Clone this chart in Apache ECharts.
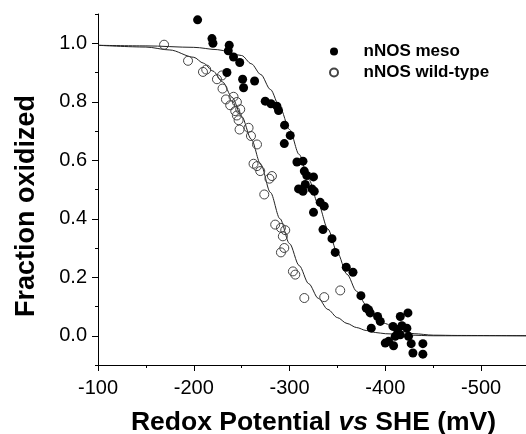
<!DOCTYPE html>
<html>
<head>
<meta charset="utf-8">
<script src="https://cdn.jsdelivr.net/npm/echarts@6/dist/echarts.min.js"></script>
<style>html,body{margin:0;padding:0;background:#fff}#c{width:526px;height:434px}</style>
</head>
<body>
<div id="c"></div>
<script>
// ---- data ----
var mesoX = [-204,-219,-220,-237,-236,-241.5,-248,-234.6,-251,-252,-263.5,-274.6,-280.6,-286.8,-288.5,-294.8,-300.7,-294.5,-307.7,-314,-315.4,-318,-325,-309.4,-314,-316.4,-323.4,-325.8,-332,-336.2,-325,-334.9,-344.3,-347.7,-359.2,-366.2,-374.5,-380,-382.5,-384.2,-391.9,-394.7,-385.3,-415.6,-423.6,-408,-412.7,-417.3,-422.5,-410.3,-415.6,-424.2,-399.9,-403.4,-408.6,-427,-439.2,-428.8,-439.2];
var mesoY = [1.08,1.016,1.0,0.993,0.974,0.953,0.934,0.90,0.877,0.848,0.871,0.802,0.793,0.785,0.77,0.72,0.685,0.657,0.594,0.597,0.563,0.548,0.543,0.502,0.494,0.517,0.502,0.494,0.456,0.443,0.422,0.363,0.332,0.285,0.234,0.217,0.137,0.095,0.089,0.078,0.066,0.049,0.026,0.066,0.078,0.032,0.021,0.034,0.026,-0.002,0.003,-0.002,-0.025,-0.019,-0.034,-0.027,-0.027,-0.059,-0.063];
var wildX = [-169,-194,-209.6,-213,-224.2,-229.4,-230,-233.6,-238,-241.5,-245,-243.3,-248.5,-245,-246.8,-247.8,-257.2,-259.7,-266,-262.4,-266,-269.4,-281.6,-279,-273.6,-285,-291,-295.5,-293,-294.5,-291,-303.5,-306,-315.4,-336.2,-352.9];
var wildY = [0.995,0.94,0.902,0.91,0.877,0.89,0.845,0.808,0.788,0.817,0.799,0.768,0.774,0.753,0.737,0.705,0.711,0.683,0.654,0.588,0.58,0.563,0.546,0.537,0.483,0.38,0.369,0.361,0.34,0.30,0.285,0.22,0.209,0.129,0.132,0.155];
// fitted curves
var mesoFitX = [-100,-150,-200,-225,-250,-260,-270,-280,-290,-300,-310,-320,-330,-340,-350,-360,-370,-380,-390,-400,-410,-420,-430,-450,-475,-550];
var mesoFitY = [0.993,0.991,0.986,0.978,0.958,0.93,0.893,0.842,0.78,0.705,0.62,0.535,0.45,0.365,0.283,0.21,0.152,0.105,0.068,0.042,0.024,0.013,0.007,0.002,0.001,0.0];
var wildFitX = [-100,-150,-175,-200,-210,-220,-230,-240,-250,-260,-270,-280,-290,-300,-310,-320,-330,-340,-350,-360,-370,-380,-390,-400,-425,-450,-550];
var wildFitY = [0.993,0.987,0.977,0.952,0.932,0.905,0.868,0.815,0.75,0.672,0.585,0.49,0.40,0.315,0.24,0.178,0.128,0.09,0.062,0.042,0.028,0.018,0.011,0.007,0.002,0.0,0.0];
var xTicks = [-100,-200,-300,-400,-500];
var yTicks = [0.0,0.2,0.4,0.6,0.8,1.0];
var names = ['nNOS meso','nNOS wild-type'];

function pairs(xs, ys){ return xs.map(function(x,i){ return [x, ys[i]]; }); }

var FONT = '"Liberation Sans", Arial, Helvetica, sans-serif';
var chart = echarts.init(document.getElementById('c'), null, {renderer:'canvas'});
chart.setOption({
  animation: false,
  backgroundColor: '#fff',
  grid: {left: 98, right: -3, top: 14, bottom: 69, containLabel: false, outerBoundsMode: 'none'},
  xAxis: [{
    type: 'value', min: -550, max: -100, inverse: true,
    axisLine: {show: true, onZero: false, lineStyle: {color: '#000', width: 1}},
    axisTick: {show: true, length: 6, inside: false, customValues: xTicks, lineStyle: {color: '#000'}},
    axisLabel: {show: true, customValues: xTicks, margin: 13, color: '#000', fontSize: 20, fontFamily: FONT},
    splitLine: {show: false},
    name: 'Redox Potential {i|vs} SHE (mV)',
    nameLocation: 'middle', nameGap: 44,
    nameTextStyle: {
      color: '#000', fontSize: 26.5, fontWeight: 'bold', fontFamily: FONT,
      rich: {i: {fontStyle: 'italic', fontWeight: 'bold', fontSize: 26.5, fontFamily: FONT, color: '#000'}}
    }
  }, {
    type: 'value', min: -550, max: -100, interval: 50, inverse: true, position: 'bottom',
    axisLine: {show: false, onZero: false},
    axisTick: {show: true, length: 3, lineStyle: {color: '#000'}},
    axisLabel: {show: false}, splitLine: {show: false}
  }],
  yAxis: [{
    type: 'value', min: -0.1, max: 1.1,
    axisLine: {show: true, onZero: false, lineStyle: {color: '#000', width: 1}},
    axisTick: {show: true, length: 6, customValues: yTicks, lineStyle: {color: '#000'}},
    axisLabel: {show: true, customValues: yTicks, margin: 11, color: '#000', fontSize: 20, fontFamily: FONT,
      formatter: function(v){ return v.toFixed(1); }},
    splitLine: {show: false}
  }, {
    type: 'value', min: -0.1, max: 1.1, interval: 0.1, position: 'left',
    axisLine: {show: false, onZero: false},
    axisTick: {show: true, length: 3, lineStyle: {color: '#000'}},
    axisLabel: {show: false}, splitLine: {show: false}
  }],
  legend: {
    data: names, orient: 'vertical', left: 324, top: 38,
    itemWidth: 49, itemHeight: 8, itemGap: 4,
    textStyle: {color: '#000', fontSize: 17, fontWeight: 'bold', fontFamily: FONT}
  },
  graphic: [{
    type: 'text', x: 27, y: 206, rotation: Math.PI / 2,
    style: {text: 'Fraction oxidized', fill: '#000', font: 'bold 27px ' + FONT, align: 'center', verticalAlign: 'middle'}
  }],
  series: [{
    name: 'meso fit', type: 'line', data: pairs(mesoFitX, mesoFitY), smooth: 0.3, smoothMonotone: 'x',
    showSymbol: false, symbol: 'none', lineStyle: {color: '#222', width: 1}, z: 1, silent: true
  }, {
    name: 'wild fit', type: 'line', data: pairs(wildFitX, wildFitY), smooth: 0.3, smoothMonotone: 'x',
    showSymbol: false, symbol: 'none', lineStyle: {color: '#222', width: 1}, z: 1, silent: true
  }, {
    name: names[0], type: 'scatter', data: pairs(mesoX, mesoY), symbol: 'circle', symbolSize: 9,
    itemStyle: {color: '#000', opacity: 1}, z: 3
  }, {
    name: names[1], type: 'scatter', data: pairs(wildX, wildY), symbol: 'circle', symbolSize: 9,
    itemStyle: {color: 'rgba(255,255,255,0)', borderColor: '#444', borderWidth: 1, opacity: 1}, z: 2
  }]
});
</script>
</body>
</html>
